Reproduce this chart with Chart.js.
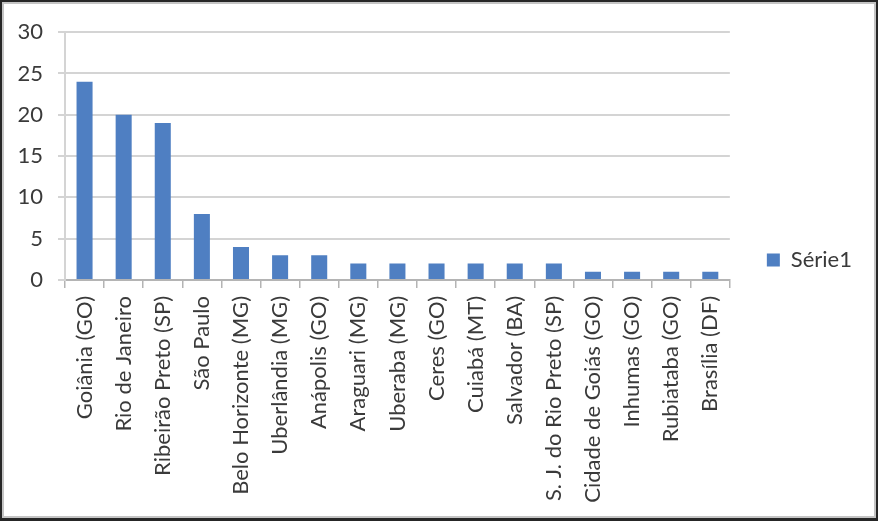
<!DOCTYPE html>
<html>
<head>
<meta charset="utf-8">
<script src="https://cdn.jsdelivr.net/npm/chart.js@4"></script>
<style>
  body { margin: 0; background: #262626; width: 878px; height: 521px; overflow: hidden; }
  #frame { position: absolute; left: 2px; top: 2px; width: 870px; height: 512px; border: 2px solid #c4c4c4; background: #fff; }
  canvas { display: block; }
</style>
</head>
<body>
<div id="frame"><canvas id="chart" width="870" height="512"></canvas></div>
<script>
// cidades e contagens
const cities = [
  'Goiânia (GO)', 'Rio de Janeiro', 'Ribeirão Preto (SP)', 'São Paulo',
  'Belo Horizonte (MG)', 'Uberlândia (MG)', 'Anápolis (GO)', 'Araguari (MG)',
  'Uberaba (MG)', 'Ceres (GO)', 'Cuiabá (MT)', 'Salvador (BA)',
  'S. J. do Rio Preto (SP)', 'Cidade de Goiás (GO)', 'Inhumas (GO)',
  'Rubiataba (GO)', 'Brasília (DF)'
];
const serie1 = [24, 20, 19, 8, 4, 3, 3, 2, 2, 2, 2, 2, 2, 1, 1, 1, 1];
const seriesName = 'Série1';
const yTicks = [0, 5, 10, 15, 20, 25, 30];

const font = { family: 'Lato, "Open Sans", sans-serif', size: 22 };
const textColor = '#3a3a3a';

new Chart(document.getElementById('chart'), {
  type: 'bar',
  data: {
    labels: cities,
    datasets: [{
      label: seriesName,
      data: serie1,
      backgroundColor: '#4f7fc2',
      borderWidth: 0,
      barPercentage: 0.41,
      categoryPercentage: 1
    }]
  },
  options: {
    responsive: false,
    animation: false,
    layout: { padding: { top: 0, left: 0, right: 12, bottom: 0 } },
    plugins: {
      tooltip: { enabled: false },
      // empty title only keeps space above the plot, legend stays centred on the canvas
      title: { display: true, text: '', fullSize: false, font: { size: 10, lineHeight: 1 }, padding: { top: 15, bottom: 0 } },
      legend: {
        position: 'right',
        align: 'center',
        labels: { font: font, color: textColor, boxWidth: 13, boxHeight: 13, padding: 37 }
      }
    },
    scales: {
      x: {
        afterFit: s => { s.height = 236; },
        grid: { display: true, drawOnChartArea: false, offset: true, tickLength: 8, color: '#b4b4b4', lineWidth: 1.5 },
        border: { color: '#b4b4b4', width: 2 },
        ticks: { font: font, color: textColor, autoSkip: false, maxRotation: 90, minRotation: 90, padding: 8 }
      },
      y: {
        min: yTicks[0],
        max: yTicks[yTicks.length - 1],
        afterFit: s => { s.width = 61; },
        afterBuildTicks: s => { s.ticks = yTicks.map(v => ({ value: v })); },
        grid: { color: '#d4d4d4', lineWidth: 2, tickLength: 7 },
        border: { color: '#d4d4d4', width: 2 },
        ticks: { font: font, color: textColor, padding: 15 }
      }
    }
  }
});
</script>
</body>
</html>
